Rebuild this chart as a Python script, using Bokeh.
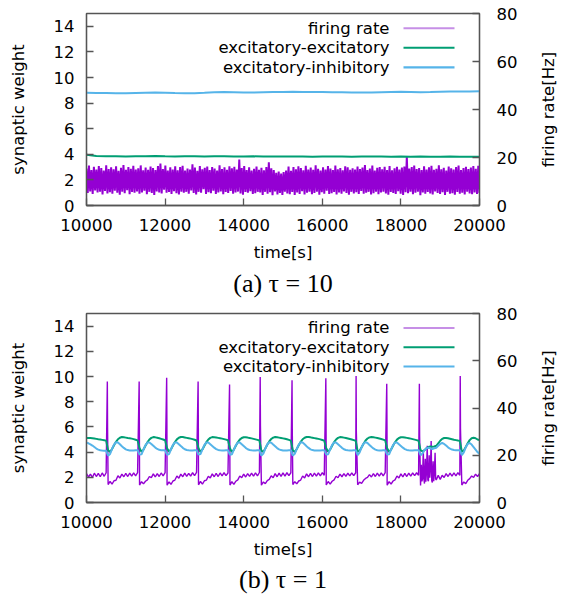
import numpy as np
from bokeh.plotting import figure
from bokeh.models import Range1d, LinearAxis, FixedTicker, Label, BoxAnnotation, Title
from bokeh.layouts import column, row
from bokeh.embed import file_html
from bokeh.resources import INLINE

# ---------------- labels / ticks ----------------
x_ticks = [10000, 12000, 14000, 16000, 18000, 20000]
w_ticks = [0, 2, 4, 6, 8, 10, 12, 14]
fr_ticks = [0, 20, 40, 60, 80]
legend_labels = ["firing rate", "excitatory-excitatory", "excitatory-inhibitory"]
captions = ["(a) τ = 10", "(b) τ = 1"]
right_label = "firing rate[Hz]"

# ---------------- panel (a): tau = 10 ----------------
# synaptic weights, every 250 s from 10000 to 20000
ee_a = [3.97, 3.86, 3.84, 3.85, 3.83, 3.85, 3.84, 3.86, 3.84, 3.83, 3.85, 3.84, 3.83, 3.84,
        3.85, 3.83, 3.82, 3.84, 3.83, 3.82, 3.83, 3.82, 3.83, 3.81, 3.82, 3.83, 3.82, 3.81,
        3.82, 3.83, 3.82, 3.81, 3.82, 3.81, 3.82, 3.80, 3.81, 3.82, 3.81, 3.80, 3.81]
ei_a = [8.80, 8.79, 8.78, 8.77, 8.76, 8.78, 8.80, 8.82, 8.81, 8.78, 8.76, 8.77, 8.80, 8.84,
        8.86, 8.85, 8.83, 8.82, 8.84, 8.86, 8.87, 8.88, 8.87, 8.86, 8.86, 8.85, 8.84, 8.83,
        8.82, 8.83, 8.85, 8.87, 8.88, 8.87, 8.85, 8.86, 8.88, 8.90, 8.91, 8.90, 8.92]
# firing rate [Hz]: alternating highs / lows of the noisy trace
fr_a_hi = [15.4, 16.6, 14.8, 16.1, 15.0, 16.4, 15.6, 14.6, 16.8, 15.2,
           15.9, 15.1, 16.3, 14.5, 15.7, 16.9, 14.9, 16.0, 15.3, 16.5,
           15.0, 15.5, 16.7, 14.7, 15.8, 14.9, 16.2, 15.6, 14.8, 16.4,
           17.5, 15.2, 16.6, 14.6, 15.9, 15.0, 16.3, 14.7, 16.0, 16.5,
           14.6, 15.4, 15.0, 17.2, 15.8, 14.5, 16.4, 15.1, 15.7, 16.2,
           14.8, 16.0, 15.4, 14.6, 16.7, 15.2, 15.9, 14.9, 16.3, 15.5,
           16.1, 15.0, 19.2, 15.6, 16.4, 14.8, 15.9, 14.6, 15.3, 16.2,
           14.9, 15.7, 14.7, 16.0, 18.0, 15.5, 14.8, 13.6, 14.1, 13.3,
           13.9, 14.6, 16.2, 14.5, 16.0, 15.1, 16.3, 15.6, 14.7, 16.5,
           15.0, 15.8, 14.9, 16.8, 15.3, 14.6, 15.9, 15.0, 16.4, 15.4,
           14.8, 16.6, 15.1, 15.6, 14.7, 16.3, 15.9, 14.9, 15.5, 15.0,
           16.2, 15.2, 15.8, 16.9, 14.8, 15.4, 16.6, 14.6, 15.7, 16.0,
           15.1, 16.1, 14.8, 16.4, 14.7, 15.5, 16.1, 15.0, 15.8, 16.2,
           20.3, 15.4, 16.0, 16.7, 15.2, 15.6, 14.8, 16.3, 15.0, 15.9,
           16.5, 14.9, 15.3, 16.8, 15.1, 15.7, 14.6, 16.2, 15.5, 15.0,
           16.0, 16.6, 14.8, 15.6, 16.1, 15.2, 15.8, 16.4, 15.3, 16.5]
fr_a_lo = [5.2, 5.9, 4.8, 6.3, 5.4, 5.7, 4.6, 6.1, 5.0, 5.5,
           4.9, 6.2, 5.3, 4.5, 5.8, 5.1, 6.4, 4.7, 5.6, 5.3,
           5.9, 4.9, 5.4, 6.2, 4.7, 5.7, 5.2, 4.4, 5.9, 5.4,
           5.0, 6.6, 5.3, 5.6, 4.8, 6.0, 5.1, 4.6, 5.8, 5.3,
           5.7, 4.9, 6.3, 5.2, 4.6, 5.7, 5.3, 6.8, 4.8, 5.5,
           5.1, 6.2, 4.8, 5.4, 5.9, 4.7, 5.6, 5.2, 6.1, 4.9,
           5.4, 5.8, 5.0, 4.5, 5.6, 5.3, 6.0, 4.8, 5.1, 5.7,
           5.4, 4.4, 5.7, 4.9, 5.5, 4.3, 5.9, 4.6, 5.2, 4.4,
           5.8, 5.0, 4.7, 5.6, 4.4, 5.4, 4.8, 6.0, 4.6, 5.3,
           5.8, 4.7, 5.2, 5.7, 4.5, 5.5, 4.9, 6.2, 4.8, 5.1,
           5.6, 4.6, 5.4, 4.9, 5.9, 5.2, 4.5, 5.7, 5.0, 5.5,
           4.8, 6.1, 4.9, 5.3, 5.7, 4.6, 5.1, 5.8, 4.7, 5.4,
           5.7, 5.0, 4.5, 5.6, 5.2, 4.8, 6.0, 4.9, 4.4, 5.5,
           5.1, 5.7, 4.7, 5.3, 5.8, 4.3, 5.4, 4.9, 5.6, 5.0,
           4.6, 5.9, 5.2, 4.8, 5.5, 4.4, 5.7, 4.9, 5.1, 4.5,
           5.6, 4.9, 5.3, 4.6, 5.8, 5.0, 4.7, 5.4, 4.8, 5.2]

# ---------------- panel (b): tau = 1 ----------------
# every 50 s from 10000 to 20000 (201 samples), grouped by burst cycle
ee_b = [
    5.12, 5.12, 5.11, 5.10, 5.08, 5.05, 5.02, 5.00, 4.97, 4.94, 4.91,
    4.15, 4.00, 4.25, 4.55, 4.82, 5.02, 5.14, 5.20, 5.18, 5.15, 5.12, 5.10, 5.07, 5.03, 4.98, 4.93,
    4.30, 4.02, 4.20, 4.50, 4.78, 5.00, 5.13, 5.19, 5.17, 5.14, 5.10, 5.05, 5.00, 4.94,
    4.30, 4.02, 4.22, 4.52, 4.80, 5.01, 5.14, 5.20, 5.19, 5.16, 5.13, 5.10, 5.07, 5.03, 4.98, 4.92,
    4.30, 4.01, 4.21, 4.51, 4.79, 5.00, 5.13, 5.19, 5.18, 5.16, 5.13, 5.10, 5.07, 5.03, 4.99, 4.94,
    4.30, 4.00, 4.20, 4.50, 4.78, 4.99, 5.12, 5.18, 5.17, 5.15, 5.12, 5.09, 5.05, 5.01, 4.97, 4.92,
    4.12, 4.02, 4.28, 4.58, 4.85, 5.04, 5.15, 5.20, 5.18, 5.15, 5.12, 5.09, 5.06, 5.02, 4.97, 4.91,
    4.15, 4.00, 4.25, 4.55, 4.82, 5.02, 5.14, 5.20, 5.19, 5.17, 5.14, 5.11, 5.08, 5.05, 5.01, 4.96, 4.91,
    4.30, 4.02, 4.21, 4.51, 4.79, 5.00, 5.13, 5.19, 5.18, 5.15, 5.12, 5.08, 5.04, 5.00, 4.95, 4.90,
    4.05, 4.10, 4.38, 4.67, 4.92, 5.08, 5.17, 5.20, 5.18, 5.15, 5.12, 5.08, 5.04, 4.99, 4.93,
    4.30, 4.01, 4.20, 4.50, 4.78, 4.99, 5.12, 5.18, 5.18, 5.16, 5.13, 5.10, 5.07, 5.03, 4.99, 4.95, 4.90,
    4.15, 4.05, 4.15, 4.30, 4.40, 4.45, 4.42, 4.45, 4.50, 4.70, 4.90, 5.05, 5.12, 5.12, 5.10, 5.06,
    5.02, 4.98, 4.95, 4.92, 4.90,
    4.05, 4.12, 4.40, 4.70, 4.95, 5.10, 5.14, 5.10, 5.00, 4.95]
ei_b = [
    4.75, 4.70, 4.62, 4.52, 4.40, 4.28, 4.20, 4.15, 4.12, 4.10, 4.10,
    3.72, 3.85, 4.25, 4.60, 4.78, 4.76, 4.62, 4.47, 4.33, 4.22, 4.16, 4.13, 4.12, 4.13, 4.14, 4.15,
    3.80, 3.82, 4.20, 4.56, 4.76, 4.77, 4.64, 4.50, 4.36, 4.25, 4.18, 4.15, 4.14, 4.14,
    3.78, 3.84, 4.22, 4.58, 4.77, 4.77, 4.63, 4.48, 4.34, 4.23, 4.17, 4.14, 4.13, 4.13, 4.14, 4.15,
    3.80, 3.84, 4.21, 4.57, 4.77, 4.77, 4.63, 4.49, 4.35, 4.24, 4.17, 4.14, 4.13, 4.13, 4.14, 4.15,
    3.79, 3.83, 4.20, 4.56, 4.76, 4.76, 4.62, 4.48, 4.34, 4.23, 4.17, 4.14, 4.13, 4.13, 4.14, 4.15,
    3.72, 3.88, 4.28, 4.62, 4.78, 4.75, 4.60, 4.46, 4.32, 4.22, 4.16, 4.13, 4.12, 4.13, 4.14, 4.15,
    3.72, 3.86, 4.25, 4.60, 4.78, 4.76, 4.62, 4.47, 4.33, 4.22, 4.16, 4.13, 4.12, 4.12, 4.13, 4.14, 4.15,
    3.80, 3.83, 4.21, 4.57, 4.77, 4.77, 4.63, 4.48, 4.34, 4.23, 4.17, 4.14, 4.13, 4.13, 4.14, 4.15,
    3.76, 3.98, 4.38, 4.68, 4.79, 4.72, 4.57, 4.42, 4.29, 4.20, 4.15, 4.13, 4.13, 4.14, 4.15,
    3.80, 3.83, 4.20, 4.56, 4.76, 4.77, 4.63, 4.49, 4.35, 4.24, 4.17, 4.14, 4.13, 4.13, 4.14, 4.15, 4.15,
    3.75, 3.90, 4.15, 4.30, 4.35, 4.30, 4.25, 4.30, 4.35, 4.50, 4.65, 4.72, 4.65, 4.52, 4.38, 4.27,
    4.20, 4.16, 4.14, 4.14, 4.15,
    3.76, 3.98, 4.38, 4.65, 4.72, 4.60, 4.40, 4.20, 4.00, 3.88]
fr_b = [
    12.2, 10.8, 12.0, 10.6, 12.4, 11.0, 12.3, 10.9, 12.5, 11.1, 12.6,
    7.6, 8.9, 7.8, 9.2, 9.4, 11.3, 10.4, 12.0, 10.9, 12.3, 11.0, 12.4, 11.2, 12.5, 11.3, 12.6,
    7.4, 8.8, 7.9, 9.0, 9.6, 11.0, 10.5, 12.1, 10.8, 12.2, 11.0, 12.5, 11.3, 12.6,
    7.3, 8.7, 7.7, 9.1, 9.5, 11.2, 10.3, 12.0, 10.9, 12.4, 11.1, 12.3, 11.2, 12.6, 11.4, 12.7,
    7.5, 8.9, 7.8, 9.2, 9.5, 11.1, 10.4, 12.1, 10.9, 12.3, 11.0, 12.5, 11.3, 12.6, 11.4, 12.5,
    7.4, 8.8, 7.7, 9.0, 9.6, 11.2, 10.5, 12.0, 10.8, 12.2, 11.1, 12.4, 11.2, 12.5, 11.3, 12.7,
    7.3, 8.7, 8.0, 9.3, 9.8, 11.3, 10.5, 12.2, 10.9, 12.4, 11.1, 12.5, 11.2, 12.6, 11.4, 12.6,
    7.6, 8.8, 7.9, 9.1, 9.5, 11.2, 10.4, 12.1, 10.9, 12.3, 11.0, 12.4, 11.2, 12.5, 11.3, 12.6, 11.5,
    7.4, 8.9, 7.8, 9.0, 9.6, 11.1, 10.5, 12.0, 10.9, 12.2, 11.1, 12.4, 11.3, 12.5, 11.4, 12.6,
    7.5, 8.6, 8.1, 9.4, 10.2, 10.6, 11.8, 10.8, 12.2, 11.0, 12.4, 11.2, 12.5, 11.3, 12.6,
    7.3, 8.8, 7.8, 9.1, 9.6, 11.2, 10.4, 12.1, 10.8, 12.3, 11.0, 12.4, 11.2, 12.5, 11.4, 12.6, 11.5,
    7.2, 10.0, 8.0, 12.5, 9.0, 14.0, 8.5, 12.0, 9.5, 11.5, 9.8, 11.5, 10.6, 12.2, 11.0, 12.4,
    11.2, 12.5, 11.3, 12.6, 11.5,
    7.4, 8.7, 8.0, 9.4, 10.1, 11.2, 10.6, 12.0, 11.0, 12.2]
# population bursts (peak and shoulder of each burst)
spike_t = [10530, 11340, 12040, 12840, 13640, 14420, 15230, 16090, 16860, 17640, 18470, 19510]
spike_peak = [51.2, 51.2, 52.8, 51.2, 49.9, 53.1, 51.7, 52.6, 53.5, 50.3, 50.3, 53.5]
shoulder_t = [10536, 11346, 12046, 12846, 13646, 14426, 15236, 16096, 16866, 17646, 18476, 19516]
shoulder_v = [32.0, 30.5, 33.0, 31.0, 29.5, 32.5, 31.0, 33.0, 30.0, 32.0, 28.5, 31.5]
# irregular activity after the burst near 18500 s
burst_t = [18520, 18535, 18570, 18585, 18620, 18635, 18670, 18685,
           18720, 18735, 18770, 18785, 18820, 18835, 18870, 18885]
burst_v = [16.0, 9.0, 22.0, 10.0, 18.5, 8.8, 24.0, 9.5,
           20.0, 10.5, 26.0, 9.2, 17.5, 9.0, 21.0, 10.0]

# ---------------- styling constants ----------------
C_FR = "#9400d3"
C_FR_KEY = "#c68fe6"
C_EE = "#009e73"
C_EI = "#56b4e9"
FRAME = "#555555"
FONT = "DejaVu Sans"
FS = "16.5px"
# legend placement (data coordinates of the left axis)
LEG_TEXT_X = 17710
LEG_LINE_X0 = 18066
LEG_LINE_X1 = 19364
LEG_ROWS_Y = [13.85, 12.32, 10.79]
MAIN_W = 535
SIDE_W = 26


def style_axis(ax, label_standoff, tick_standoff):
    ax.major_tick_in = 7
    ax.major_tick_out = 0
    ax.minor_tick_in = 0
    ax.minor_tick_out = 0
    ax.axis_line_color = FRAME
    ax.axis_line_width = 1.3
    ax.major_tick_line_color = FRAME
    ax.major_tick_line_width = 1.3
    ax.major_label_text_font = FONT
    ax.major_label_text_font_size = FS
    ax.major_label_text_color = "black"
    ax.axis_label_text_font = FONT
    ax.axis_label_text_font_size = FS
    ax.axis_label_text_font_style = "normal"
    ax.axis_label_text_color = "black"
    ax.major_label_standoff = tick_standoff
    ax.axis_label_standoff = label_standoff


def make_panel(caption, t_w, ee, ei, t_fr, fr, fr_width, height, top, bottom,
               tick_standoff, x_label_standoff, cap_standoff):
    p = figure(width=MAIN_W, height=height, x_range=Range1d(10000, 20000), y_range=Range1d(0, 15),
               output_backend="svg", toolbar_location=None, title=None,
               min_border_left=86, min_border_right=MAIN_W - 479, min_border_top=top,
               min_border_bottom=bottom, background_fill_color="white", border_fill_color="white",
               outline_line_color=FRAME, outline_line_width=1.3)
    p.extra_y_ranges = {"fr": Range1d(0, 80)}
    p.xgrid.visible = False
    p.ygrid.visible = False

    p.line(t_fr, fr, y_range_name="fr", color=C_FR, line_width=fr_width)
    p.line(t_w, ee, color=C_EE, line_width=2)
    p.line(t_w, ei, color=C_EI, line_width=2)

    p.xaxis.ticker = FixedTicker(ticks=x_ticks)
    p.xaxis.axis_label = "time[s]"
    style_axis(p.xaxis[0], x_label_standoff, tick_standoff)
    p.yaxis.ticker = FixedTicker(ticks=w_ticks)
    p.yaxis.axis_label = "synaptic weight"
    style_axis(p.yaxis[0], 23, 12)

    right = LinearAxis(y_range_name="fr", ticker=FixedTicker(ticks=fr_ticks))
    style_axis(right, 0, 17)
    p.add_layout(right, "right")

    keys = [C_FR_KEY, C_EE, C_EI]
    for lab, col, yy in zip(legend_labels, keys, LEG_ROWS_Y):
        p.add_layout(Label(x=LEG_TEXT_X, y=yy, text=lab, text_align="right",
                           text_baseline="middle", text_font=FONT, text_font_size=FS,
                           text_color="black"))
        p.add_layout(BoxAnnotation(left=LEG_LINE_X0, right=LEG_LINE_X1, bottom=yy - 0.08,
                                   top=yy + 0.08, fill_color=col, fill_alpha=1.0,
                                   line_color=None, level="overlay"))

    cap = Title(text=caption, align="center", text_font="Liberation Serif",
                text_font_size="26px", text_font_style="normal", text_color="black",
                standoff=cap_standoff)
    p.add_layout(cap, "below")

    # narrow companion figure carrying the right-hand axis title (reads bottom-to-top)
    s = figure(width=SIDE_W, height=height, x_range=Range1d(0, 1), y_range=Range1d(0, 80),
               output_backend="svg", toolbar_location=None, title=None,
               min_border_left=SIDE_W - 4, min_border_right=0, min_border_top=top,
               min_border_bottom=bottom, background_fill_color="white", border_fill_color="white",
               outline_line_color=None)
    s.xaxis.visible = False
    s.xgrid.visible = False
    s.ygrid.visible = False
    sa = s.yaxis[0]
    sa.ticker = FixedTicker(ticks=[])
    sa.axis_line_color = None
    sa.major_tick_line_color = None
    sa.minor_tick_line_color = None
    sa.major_tick_out = 0
    sa.major_tick_in = 0
    sa.major_label_standoff = 0
    sa.axis_label = right_label
    sa.axis_label_standoff = 0
    sa.axis_label_text_font = FONT
    sa.axis_label_text_font_size = FS
    sa.axis_label_text_font_style = "normal"
    sa.axis_label_text_color = "black"
    return row(p, s, spacing=0)


# panel (a) coordinates
t_ee_a = np.linspace(10000, 20000, len(ee_a))
fr_a = [v for pair in zip(fr_a_hi, fr_a_lo) for v in pair]
t_fr_a = np.linspace(10000, 20000, len(fr_a))

# panel (b) coordinates
t_grid_b = np.arange(10000, 20001, 50)
assert len(ee_b) == len(t_grid_b) and len(ei_b) == len(t_grid_b) and len(fr_b) == len(t_grid_b)
pts = list(zip(t_grid_b.tolist(), fr_b)) + list(zip(spike_t, spike_peak)) + \
      list(zip(shoulder_t, shoulder_v)) + list(zip(burst_t, burst_v))
pts.sort(key=lambda q: q[0])
t_fr_b = [q[0] for q in pts]
fr_b_line = [q[1] for q in pts]

ra = make_panel(captions[0], t_ee_a, ee_a, ei_a, t_fr_a, fr_a, 2.0, 300, 13, 91, 13, 9, 5)
rb = make_panel(captions[1], t_grid_b, ee_b, ei_b, t_fr_b, fr_b_line, 1.4, 295, 13, 88, 13, 9, 3)

layout = column(ra, rb, spacing=0)
open("out.html", "w").write(file_html(layout, INLINE))
